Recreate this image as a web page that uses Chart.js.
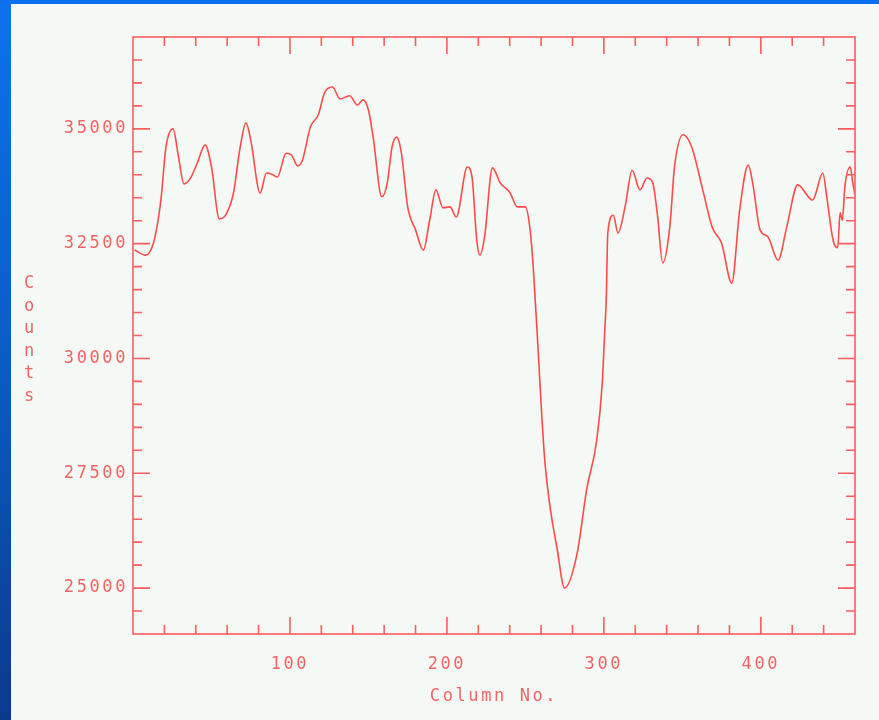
<!DOCTYPE html>
<html>
<head>
<meta charset="utf-8">
<script src="https://cdn.jsdelivr.net/npm/chart.js@4/dist/chart.umd.min.js"></script>
<style>
    html, body { margin: 0; padding: 0; background: #f5f9f5; overflow: hidden; }
    #wrap { position: absolute; left: 0; top: 0; width: 879px; height: 720px; }
    #leftBar { position: absolute; left: 0; top: 0; width: 11px; height: 720px;
        background: linear-gradient(to bottom, #0b72ee, #0a5cc4 50%, #0a3a8c); }
    #topBar { position: absolute; left: 0; top: 0; width: 879px; height: 4px; background: #0b70ee; }
</style>
</head>
<body>
<div id="wrap"><canvas id="profileChart" width="879" height="720"></canvas></div>
<div id="leftBar"></div>
<div id="topBar"></div>
<script>
// column number / counts
var colX = [1, 8, 13, 16, 18, 21, 25.5, 29, 32.5, 37, 41, 46, 50, 55, 59, 64, 68, 72, 75, 81, 85, 89, 92, 97.5, 101, 105, 108, 113, 118, 122, 127, 132, 138, 143, 146.5, 150, 153, 158.5, 162, 165, 168, 171, 175, 180, 185, 189, 193, 197.5, 202, 206, 213, 216, 219, 221, 224, 229, 234, 240, 245, 250, 253, 255, 258, 260.5, 262.5, 266, 270, 275, 283, 289, 295.5, 299, 300.5, 301.5, 302.5, 306, 309, 313.5, 318, 323, 327.5, 331, 334, 337.5, 342, 345, 350.5, 356, 363, 369, 375, 381.5, 386.5, 392, 395, 399.5, 404.5, 411, 416.5, 423.5, 433, 439.5, 442, 446, 449, 450.5, 452, 453.5, 457, 458.5, 460];
var counts = [32360, 32250, 32510, 33010, 33520, 34600, 35000, 34390, 33800, 33950, 34260, 34650, 34170, 33040, 33120, 33600, 34540, 35130, 34760, 33600, 34040, 34000, 33950, 34470, 34430, 34190, 34320, 35040, 35300, 35780, 35910, 35650, 35720, 35520, 35630, 35410, 34820, 33520, 33820, 34600, 34820, 34470, 33300, 32800, 32360, 33010, 33670, 33280, 33300, 33080, 34170, 33950, 32580, 32250, 32650, 34150, 33820, 33620, 33300, 33300, 32800, 31990, 30250, 28720, 27720, 26700, 25900, 25000, 25760, 27140, 28230, 29470, 30560, 31270, 32730, 33120, 32730, 33300, 34100, 33670, 33930, 33840, 33170, 32080, 32860, 34170, 34870, 34600, 33670, 32860, 32510, 31640, 33230, 34210, 33780, 32800, 32650, 32140, 32860, 33780, 33450, 34040, 33520, 32580, 32410, 33170, 33010, 33730, 34170, 33840, 33560];

var xLabels = [100, 200, 300, 400];
var xMinor = [20, 40, 60, 80, 120, 140, 160, 180, 220, 240, 260, 280, 320, 340, 360, 380, 420, 440];
var yLabels = [25000, 27500, 30000, 32500, 35000];
var yMinor = [24500, 25500, 26000, 26500, 27000, 28000, 28500, 29000, 29500, 30500, 31000, 31500, 32000, 33000, 33500, 34000, 34500, 35500, 36000, 36500];
var xTitle = 'Column No.';
var yTitle = 'Counts';

var red = '#ff5c5c';
var textRed = '#f26464';
var fontFam = '"DejaVu Sans Mono", monospace';

// box round the plot with ticks pointing inwards on all four sides
var frameTicks = {
    id: 'frameTicks',
    beforeDraw: function(chart) {
        chart.ctx.letterSpacing = '2.6px';
    },
    afterDatasetsDraw: function(chart) {
        var ctx = chart.ctx, a = chart.chartArea;
        var xs = chart.scales.x, ys = chart.scales.y;
        ctx.save();
        ctx.strokeStyle = red;
        ctx.lineWidth = 1.6;
        ctx.strokeRect(a.left, a.top, a.right - a.left, a.bottom - a.top);
        ctx.beginPath();
        function xt(v, len) {
            var p = xs.getPixelForValue(v);
            ctx.moveTo(p, a.bottom); ctx.lineTo(p, a.bottom - len);
            ctx.moveTo(p, a.top); ctx.lineTo(p, a.top + len);
        }
        function yt(v, len) {
            var p = ys.getPixelForValue(v);
            ctx.moveTo(a.left, p); ctx.lineTo(a.left + len, p);
            ctx.moveTo(a.right, p); ctx.lineTo(a.right - len, p);
        }
        xLabels.forEach(function(v) { xt(v, 17); });
        xMinor.forEach(function(v) { xt(v, 9); });
        yLabels.forEach(function(v) { yt(v, 17); });
        yMinor.forEach(function(v) { yt(v, 9); });
        ctx.stroke();

        // y title: letters stacked upright
        ctx.fillStyle = textRed;
        ctx.font = '17px ' + fontFam;
        ctx.textAlign = 'center';
        ctx.textBaseline = 'middle';
        ctx.letterSpacing = '0px';
        for (var i = 0; i < yTitle.length; i++) {
            ctx.fillText(yTitle[i], 29, 284 + i * 22.5);
        }
        ctx.restore();
    }
};

var ctx = document.getElementById('profileChart').getContext('2d');
var profileChart = new Chart(ctx, {
    type: 'line',
    data: {
        datasets: [{
            label: yTitle,
            data: colX.map(function(x, i) { return { x: x, y: counts[i] }; }),
            borderColor: '#ff4a4a',
            borderWidth: 1.6,
            pointRadius: 0,
            cubicInterpolationMode: 'monotone',
            fill: false
        }]
    },
    options: {
        responsive: false,
        animation: false,
        layout: { padding: { left: 0, right: 24, top: 37, bottom: 0 } },
        plugins: { legend: { display: false }, tooltip: { enabled: false } },
        scales: {
            x: {
                type: 'linear',
                min: 0,
                max: 460,
                grid: { display: false, drawTicks: false },
                border: { display: false },
                afterBuildTicks: function(s) { s.ticks = xLabels.map(function(v) { return { value: v }; }); },
                afterFit: function(s) { s.height = 86; },
                ticks: {
                    color: textRed,
                    padding: 20,
                    maxRotation: 0,
                    font: { family: fontFam, size: 17 },
                    callback: function(v) { return String(v); }
                },
                title: {
                    display: true,
                    text: xTitle,
                    color: textRed,
                    font: { family: fontFam, size: 17 },
                    padding: { top: 0, bottom: 13 }
                }
            },
            y: {
                min: 24000,
                max: 37000,
                grid: { display: false, drawTicks: false },
                border: { display: false },
                afterBuildTicks: function(s) { s.ticks = yLabels.map(function(v) { return { value: v }; }); },
                afterFit: function(s) { s.width = 133; },
                ticks: {
                    color: textRed,
                    padding: 5,
                    font: { family: fontFam, size: 17 },
                    callback: function(v) { return String(v); }
                }
            }
        }
    },
    plugins: [frameTicks]
});
</script>
</body>
</html>
